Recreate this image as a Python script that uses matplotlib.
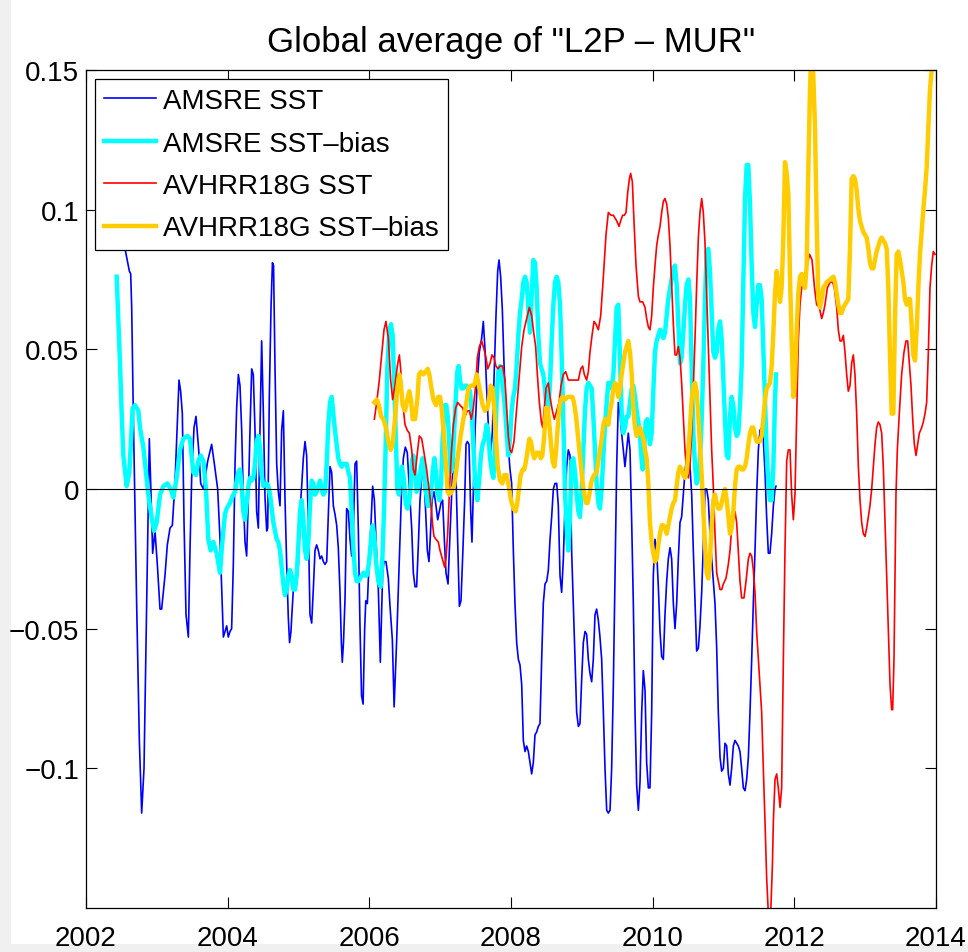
import matplotlib
matplotlib.use('Agg')
import matplotlib.pyplot as plt
from matplotlib.ticker import FixedLocator, FuncFormatter
from matplotlib.patches import Rectangle

plt.rcParams['font.family'] = ['Liberation Sans', 'DejaVu Sans']

TITLE = 'Global average of "L2P \u2013 MUR"'
LABELS = ['AMSRE SST', 'AMSRE SST\u2013bias', 'AVHRR18G SST', 'AVHRR18G SST\u2013bias']
XTICKS = [2002, 2004, 2006, 2008, 2010, 2012, 2014]
YTICKS = [-0.1, -0.05, 0, 0.05, 0.1, 0.15]

amsre_t = [2002.47, 2002.551, 2002.612, 2002.631, 2002.645, 2002.668, 2002.715, 2002.753, 2002.786, 2002.819,
    2002.856, 2002.894, 2002.918, 2002.941, 2002.974, 2003.007, 2003.045, 2003.068, 2003.115, 2003.148,
    2003.186, 2003.219, 2003.256, 2003.280, 2003.313, 2003.336, 2003.360, 2003.384, 2003.412, 2003.445,
    2003.468, 2003.492, 2003.525, 2003.553, 2003.591, 2003.619, 2003.657, 2003.718, 2003.774, 2003.812,
    2003.859, 2003.892, 2003.915, 2003.939, 2003.962, 2003.986, 2004.009, 2004.033, 2004.056, 2004.080,
    2004.104, 2004.127, 2004.151, 2004.174, 2004.198, 2004.221, 2004.245, 2004.268, 2004.292, 2004.315,
    2004.339, 2004.362, 2004.386, 2004.409, 2004.433, 2004.456, 2004.480, 2004.504, 2004.527, 2004.551,
    2004.565, 2004.588, 2004.612, 2004.632, 2004.648, 2004.668, 2004.692, 2004.715, 2004.739, 2004.762,
    2004.786, 2004.809, 2004.833, 2004.856, 2004.874, 2004.894, 2004.904, 2004.927, 2004.951, 2004.974,
    2004.998, 2005.021, 2005.045, 2005.068, 2005.092, 2005.115, 2005.139, 2005.162, 2005.186, 2005.209,
    2005.233, 2005.256, 2005.280, 2005.304, 2005.327, 2005.351, 2005.374, 2005.398, 2005.421, 2005.445,
    2005.468, 2005.492, 2005.515, 2005.539, 2005.562, 2005.586, 2005.605, 2005.618, 2005.635, 2005.657,
    2005.680, 2005.704, 2005.727, 2005.751, 2005.774, 2005.798, 2005.821, 2005.845, 2005.868, 2005.890,
    2005.912, 2005.934, 2005.950, 2005.972, 2006.000, 2006.024, 2006.047, 2006.071, 2006.094, 2006.127,
    2006.155, 2006.188, 2006.207, 2006.235, 2006.268, 2006.292, 2006.325, 2006.350, 2006.386, 2006.409,
    2006.433, 2006.456, 2006.480, 2006.508, 2006.536, 2006.565, 2006.598, 2006.621, 2006.645, 2006.668,
    2006.692, 2006.715, 2006.748, 2006.772, 2006.795, 2006.819, 2006.842, 2006.861, 2006.885, 2006.913,
    2006.941, 2006.965, 2006.988, 2007.012, 2007.035, 2007.059, 2007.082, 2007.111, 2007.139, 2007.172,
    2007.200, 2007.224, 2007.247, 2007.271, 2007.294, 2007.318, 2007.346, 2007.365, 2007.384, 2007.407,
    2007.431, 2007.449, 2007.468, 2007.496, 2007.525, 2007.553, 2007.586, 2007.609, 2007.633, 2007.656,
    2007.685, 2007.713, 2007.736, 2007.760, 2007.788, 2007.812, 2007.831, 2007.854, 2007.878, 2007.901,
    2007.925, 2007.953, 2007.986, 2008.009, 2008.033, 2008.056, 2008.080, 2008.104, 2008.127, 2008.151,
    2008.174, 2008.198, 2008.221, 2008.245, 2008.268, 2008.292, 2008.315, 2008.339, 2008.362, 2008.386,
    2008.409, 2008.433, 2008.456, 2008.480, 2008.504, 2008.527, 2008.551, 2008.574, 2008.598, 2008.621,
    2008.645, 2008.668, 2008.692, 2008.715, 2008.739, 2008.762, 2008.786, 2008.809, 2008.833, 2008.856,
    2008.880, 2008.904, 2008.927, 2008.951, 2008.974, 2008.998, 2009.021, 2009.045, 2009.068, 2009.092,
    2009.115, 2009.139, 2009.162, 2009.186, 2009.209, 2009.233, 2009.256, 2009.280, 2009.304, 2009.327,
    2009.351, 2009.374, 2009.398, 2009.421, 2009.445, 2009.468, 2009.492, 2009.515, 2009.539, 2009.562,
    2009.586, 2009.609, 2009.633, 2009.656, 2009.680, 2009.704, 2009.727, 2009.751, 2009.774, 2009.798,
    2009.821, 2009.845, 2009.868, 2009.892, 2009.915, 2009.939, 2009.962, 2009.986, 2010.009, 2010.033,
    2010.056, 2010.080, 2010.104, 2010.127, 2010.151, 2010.174, 2010.198, 2010.221, 2010.245, 2010.268,
    2010.292, 2010.315, 2010.339, 2010.362, 2010.386, 2010.409, 2010.433, 2010.456, 2010.480, 2010.504,
    2010.527, 2010.551, 2010.574, 2010.598, 2010.621, 2010.645, 2010.668, 2010.692, 2010.715, 2010.739,
    2010.762, 2010.786, 2010.809, 2010.833, 2010.856, 2010.880, 2010.904, 2010.927, 2010.951, 2010.974,
    2010.998, 2011.021, 2011.045, 2011.068, 2011.092, 2011.115, 2011.139, 2011.162, 2011.186, 2011.209,
    2011.233, 2011.256, 2011.280, 2011.304, 2011.327, 2011.351, 2011.374, 2011.398, 2011.421, 2011.445,
    2011.468, 2011.492, 2011.515, 2011.539, 2011.562, 2011.586, 2011.609, 2011.633, 2011.656, 2011.680,
    2011.704, 2011.727, 2011.741]
amsre_v = [0.095, 0.086, 0.078, 0.077, 0.065, 0.027, -0.041, -0.090, -0.116, -0.100,
    -0.041, 0.018, -0.002, -0.023, -0.015, -0.027, -0.043, -0.043, -0.031, -0.020,
    -0.014, -0.013, 0.002, 0.018, 0.039, 0.035, 0.027, -0.012, -0.045, -0.053,
    -0.022, 0.004, 0.022, 0.026, 0.014, 0.002, 0.000, 0.010, 0.016, 0.009,
    0.000, -0.018, -0.035, -0.053, -0.051, -0.049, -0.053, -0.051, -0.050, -0.027,
    0.009, 0.029, 0.041, 0.037, 0.021, -0.003, -0.019, -0.024, -0.003, 0.021,
    0.043, 0.041, 0.021, -0.008, -0.014, 0.021, 0.053, 0.027, -0.003, -0.015,
    -0.014, 0.033, 0.065, 0.081, 0.080, 0.044, 0.009, -0.001, -0.006, 0.021,
    0.028, -0.003, -0.027, -0.046, -0.055, -0.051, -0.046, -0.036, -0.034, -0.034,
    -0.027, -0.008, 0.001, 0.011, 0.017, 0.012, -0.013, -0.045, -0.048, -0.036,
    -0.022, -0.020, -0.022, -0.025, -0.024, -0.026, -0.027, -0.026, -0.009, 0.008,
    0.006, -0.006, -0.009, -0.013, -0.021, -0.037, -0.055, -0.062, -0.055, -0.039,
    -0.007, -0.008, -0.018, -0.024, -0.015, 0.009, 0.010, -0.015, -0.049, -0.074,
    -0.077, -0.050, -0.040, -0.041, -0.024, -0.012, 0.001, -0.004, -0.018, -0.036,
    -0.062, -0.030, -0.026, -0.026, -0.032, -0.042, -0.054, -0.078, -0.054, -0.036,
    -0.018, 0.000, 0.011, 0.015, 0.013, 0.000, -0.014, -0.030, -0.035, -0.035,
    -0.020, -0.004, 0.007, 0.004, -0.008, -0.022, -0.026, -0.017, -0.004, -0.001,
    -0.006, -0.011, -0.008, -0.005, -0.004, -0.018, -0.030, -0.034, -0.016, 0.004,
    0.011, 0.004, -0.018, -0.042, -0.040, -0.024, -0.004, 0.016, 0.017, 0.016,
    -0.008, -0.019, -0.001, 0.023, 0.039, 0.049, 0.054, 0.060, 0.050, 0.036,
    0.020, 0.013, 0.020, 0.039, 0.062, 0.078, 0.082, 0.076, 0.064, 0.045,
    0.030, 0.018, 0.007, 0.002, -0.022, -0.041, -0.055, -0.061, -0.063, -0.070,
    -0.090, -0.094, -0.092, -0.094, -0.098, -0.102, -0.098, -0.088, -0.087, -0.085,
    -0.084, -0.061, -0.041, -0.034, -0.033, -0.029, -0.018, -0.010, 0.000, 0.002,
    0.002, -0.006, -0.031, -0.037, -0.025, -0.006, 0.008, 0.014, 0.012, -0.022,
    -0.041, -0.061, -0.080, -0.085, -0.084, -0.068, -0.055, -0.051, -0.052, -0.061,
    -0.066, -0.069, -0.061, -0.045, -0.043, -0.047, -0.053, -0.061, -0.080, -0.100,
    -0.115, -0.116, -0.115, -0.100, -0.070, -0.031, 0.008, 0.031, 0.027, 0.020,
    0.014, 0.008, 0.014, 0.020, 0.014, -0.012, -0.041, -0.080, -0.106, -0.115,
    -0.105, -0.080, -0.065, -0.072, -0.098, -0.107, -0.107, -0.080, -0.031, -0.018,
    -0.022, -0.035, -0.051, -0.060, -0.061, -0.045, -0.033, -0.025, -0.021, -0.025,
    -0.041, -0.050, -0.041, -0.025, -0.012, -0.010, -0.002, 0.006, 0.012, 0.016,
    0.008, -0.002, -0.022, -0.041, -0.058, -0.057, -0.049, -0.037, -0.020, 0.000,
    0.000, -0.004, -0.016, -0.025, -0.033, -0.041, -0.057, -0.080, -0.096, -0.101,
    -0.100, -0.091, -0.092, -0.102, -0.106, -0.100, -0.092, -0.090, -0.091, -0.092,
    -0.094, -0.100, -0.107, -0.108, -0.104, -0.096, -0.080, -0.061, -0.041, -0.022,
    -0.002, 0.014, 0.021, 0.022, 0.018, 0.006, -0.010, -0.023, -0.023, -0.016,
    -0.006, 0.000, 0.001]

amsre_bias_t = [2002.433, 2002.480, 2002.504, 2002.527, 2002.574, 2002.612, 2002.659, 2002.692, 2002.739, 2002.762,
    2002.809, 2002.847, 2002.880, 2002.913, 2002.960, 2002.998, 2003.045, 2003.092, 2003.148, 2003.195,
    2003.233, 2003.280, 2003.327, 2003.374, 2003.431, 2003.468, 2003.515, 2003.553, 2003.586, 2003.619,
    2003.657, 2003.694, 2003.727, 2003.760, 2003.798, 2003.845, 2003.892, 2003.915, 2003.939, 2003.962,
    2003.986, 2004.033, 2004.080, 2004.104, 2004.127, 2004.151, 2004.174, 2004.198, 2004.221, 2004.245,
    2004.268, 2004.292, 2004.315, 2004.339, 2004.362, 2004.386, 2004.409, 2004.433, 2004.456, 2004.480,
    2004.504, 2004.551, 2004.574, 2004.598, 2004.621, 2004.645, 2004.668, 2004.692, 2004.715, 2004.739,
    2004.762, 2004.786, 2004.809, 2004.833, 2004.856, 2004.880, 2004.904, 2004.927, 2004.951, 2004.974,
    2004.998, 2005.021, 2005.045, 2005.068, 2005.092, 2005.115, 2005.139, 2005.162, 2005.186, 2005.209,
    2005.233, 2005.256, 2005.280, 2005.304, 2005.327, 2005.351, 2005.374, 2005.398, 2005.421, 2005.445,
    2005.468, 2005.492, 2005.515, 2005.539, 2005.562, 2005.586, 2005.609, 2005.633, 2005.656, 2005.680,
    2005.704, 2005.727, 2005.751, 2005.774, 2005.798, 2005.821, 2005.845, 2005.868, 2005.915, 2005.939,
    2005.962, 2005.986, 2006.000, 2006.024, 2006.047, 2006.071, 2006.094, 2006.127, 2006.160, 2006.184,
    2006.207, 2006.231, 2006.254, 2006.282, 2006.306, 2006.329, 2006.353, 2006.376, 2006.395, 2006.419,
    2006.442, 2006.461, 2006.485, 2006.513, 2006.536, 2006.560, 2006.584, 2006.602, 2006.621, 2006.645,
    2006.668, 2006.701, 2006.729, 2006.753, 2006.776, 2006.800, 2006.824, 2006.847, 2006.871, 2006.894,
    2006.918, 2006.941, 2006.960, 2006.988, 2007.012, 2007.035, 2007.064, 2007.087, 2007.111, 2007.129,
    2007.148, 2007.172, 2007.195, 2007.219, 2007.242, 2007.261, 2007.280, 2007.304, 2007.327, 2007.355,
    2007.374, 2007.398, 2007.421, 2007.445, 2007.468, 2007.496, 2007.525, 2007.553, 2007.576, 2007.600,
    2007.628, 2007.656, 2007.680, 2007.704, 2007.732, 2007.751, 2007.774, 2007.798, 2007.821, 2007.845,
    2007.868, 2007.892, 2007.915, 2007.939, 2007.962, 2007.986, 2008.009, 2008.033, 2008.056, 2008.080,
    2008.104, 2008.127, 2008.151, 2008.174, 2008.198, 2008.221, 2008.245, 2008.268, 2008.292, 2008.315,
    2008.339, 2008.362, 2008.386, 2008.409, 2008.433, 2008.456, 2008.480, 2008.504, 2008.527, 2008.551,
    2008.574, 2008.598, 2008.621, 2008.645, 2008.668, 2008.692, 2008.715, 2008.739, 2008.762, 2008.786,
    2008.809, 2008.833, 2008.856, 2008.880, 2008.904, 2008.927, 2008.951, 2008.974, 2008.998, 2009.021,
    2009.045, 2009.068, 2009.092, 2009.115, 2009.139, 2009.162, 2009.186, 2009.209, 2009.233, 2009.256,
    2009.280, 2009.304, 2009.327, 2009.351, 2009.374, 2009.398, 2009.421, 2009.445, 2009.468, 2009.492,
    2009.515, 2009.529, 2009.548, 2009.567, 2009.586, 2009.609, 2009.633, 2009.656, 2009.680, 2009.704,
    2009.727, 2009.751, 2009.774, 2009.798, 2009.821, 2009.845, 2009.859, 2009.878, 2009.901, 2009.925,
    2009.948, 2009.962, 2009.986, 2010.009, 2010.033, 2010.056, 2010.080, 2010.104, 2010.127, 2010.151,
    2010.174, 2010.198, 2010.221, 2010.245, 2010.268, 2010.292, 2010.315, 2010.339, 2010.362, 2010.386,
    2010.409, 2010.433, 2010.456, 2010.480, 2010.504, 2010.527, 2010.551, 2010.574, 2010.598, 2010.621,
    2010.645, 2010.668, 2010.692, 2010.715, 2010.739, 2010.762, 2010.786, 2010.809, 2010.833, 2010.856,
    2010.880, 2010.904, 2010.927, 2010.951, 2010.974, 2010.998, 2011.021, 2011.045, 2011.068, 2011.092,
    2011.115, 2011.139, 2011.162, 2011.186, 2011.209, 2011.233, 2011.256, 2011.280, 2011.304, 2011.327,
    2011.351, 2011.374, 2011.398, 2011.421, 2011.445, 2011.468, 2011.492, 2011.515, 2011.539, 2011.562,
    2011.586, 2011.609, 2011.633, 2011.656, 2011.680, 2011.704, 2011.727, 2011.741]
amsre_bias_v = [0.076, 0.045, 0.027, 0.012, 0.001, 0.006, 0.029, 0.030, 0.028, 0.022,
    0.015, 0.006, -0.002, -0.008, -0.015, -0.012, -0.002, 0.001, 0.002, 0.000,
    -0.003, 0.004, 0.014, 0.018, 0.019, 0.018, 0.006, 0.005, 0.010, 0.012,
    0.010, 0.000, -0.018, -0.022, -0.019, -0.023, -0.030, -0.022, -0.015, -0.009,
    -0.007, -0.005, -0.002, -0.001, 0.003, 0.006, 0.007, 0.001, -0.008, -0.011,
    -0.005, 0.001, 0.004, 0.003, 0.004, 0.009, 0.017, 0.019, 0.015, 0.005,
    0.001, 0.002, 0.001, -0.002, -0.007, -0.012, -0.015, -0.018, -0.019, -0.022,
    -0.028, -0.034, -0.038, -0.036, -0.031, -0.029, -0.031, -0.036, -0.036, -0.031,
    -0.020, -0.008, -0.004, -0.011, -0.022, -0.025, -0.019, -0.006, 0.003, 0.002,
    -0.002, -0.001, 0.001, 0.003, 0.000, -0.002, -0.001, 0.009, 0.023, 0.031,
    0.033, 0.027, 0.021, 0.016, 0.011, 0.009, 0.008, 0.009, 0.009, 0.009,
    0.006, 0.004, -0.008, -0.021, -0.030, -0.033, -0.033, -0.032, -0.030, -0.031,
    -0.031, -0.028, -0.025, -0.018, -0.013, -0.017, -0.026, -0.033, -0.035, -0.025,
    -0.008, 0.016, 0.043, 0.057, 0.059, 0.055, 0.037, 0.016, 0.000, -0.002,
    0.006, 0.008, 0.004, -0.005, -0.007, -0.005, 0.001, 0.010, 0.012, 0.007,
    -0.001, 0.001, 0.008, 0.011, 0.006, -0.001, -0.006, -0.006, -0.001, 0.006,
    0.011, 0.006, -0.001, -0.004, 0.002, 0.018, 0.030, 0.030, 0.025, 0.016,
    0.006, 0.007, 0.019, 0.032, 0.042, 0.044, 0.039, 0.036, 0.036, 0.037,
    0.037, 0.036, 0.035, 0.028, 0.016, 0.001, -0.004, 0.004, 0.012, 0.016,
    0.018, 0.023, 0.020, 0.011, 0.006, 0.004, 0.014, 0.032, 0.042, 0.044,
    0.041, 0.035, 0.029, 0.020, 0.012, 0.018, 0.028, 0.033, 0.036, 0.044,
    0.055, 0.063, 0.068, 0.074, 0.076, 0.074, 0.065, 0.056, 0.069, 0.082,
    0.081, 0.072, 0.055, 0.045, 0.043, 0.041, 0.036, 0.028, 0.029, 0.038,
    0.053, 0.066, 0.074, 0.076, 0.074, 0.066, 0.048, 0.024, -0.001, -0.014,
    -0.022, -0.010, 0.010, 0.011, 0.006, -0.002, -0.008, -0.010, 0.000, 0.014,
    0.028, 0.036, 0.038, 0.037, 0.036, 0.026, 0.014, 0.002, -0.005, -0.007,
    0.000, 0.012, 0.023, 0.031, 0.038, 0.038, 0.036, 0.041, 0.053, 0.065,
    0.066, 0.055, 0.038, 0.024, 0.020, 0.022, 0.026, 0.026, 0.031, 0.036,
    0.037, 0.033, 0.028, 0.024, 0.019, 0.010, 0.007, 0.013, 0.024, 0.025,
    0.020, 0.016, 0.020, 0.035, 0.049, 0.053, 0.055, 0.057, 0.056, 0.054,
    0.056, 0.062, 0.068, 0.072, 0.075, 0.079, 0.080, 0.073, 0.059, 0.045,
    0.047, 0.056, 0.066, 0.073, 0.075, 0.068, 0.044, 0.020, 0.008, 0.002,
    0.004, 0.011, 0.025, 0.044, 0.068, 0.085, 0.086, 0.078, 0.063, 0.049,
    0.047, 0.049, 0.057, 0.060, 0.054, 0.039, 0.025, 0.012, 0.011, 0.026,
    0.033, 0.030, 0.022, 0.019, 0.020, 0.030, 0.044, 0.074, 0.104, 0.116,
    0.116, 0.102, 0.080, 0.063, 0.058, 0.066, 0.073, 0.073, 0.068, 0.050,
    0.032, 0.014, 0.002, -0.004, -0.004, 0.008, 0.032, 0.041]

avhrr_t = [2006.071, 2006.104, 2006.141, 2006.174, 2006.207, 2006.235, 2006.268, 2006.301, 2006.329, 2006.362,
    2006.395, 2006.424, 2006.442, 2006.471, 2006.504, 2006.536, 2006.565, 2006.598, 2006.621, 2006.645,
    2006.678, 2006.706, 2006.739, 2006.772, 2006.809, 2006.842, 2006.871, 2006.894, 2006.913, 2006.941,
    2006.974, 2006.998, 2007.031, 2007.064, 2007.082, 2007.106, 2007.129, 2007.158, 2007.186, 2007.219,
    2007.247, 2007.280, 2007.318, 2007.351, 2007.384, 2007.412, 2007.440, 2007.468, 2007.501, 2007.525,
    2007.553, 2007.586, 2007.619, 2007.647, 2007.671, 2007.704, 2007.732, 2007.760, 2007.788, 2007.816,
    2007.845, 2007.882, 2007.915, 2007.939, 2007.962, 2007.986, 2008.009, 2008.042, 2008.080, 2008.118,
    2008.151, 2008.184, 2008.221, 2008.259, 2008.292, 2008.315, 2008.348, 2008.372, 2008.400, 2008.428,
    2008.447, 2008.471, 2008.494, 2008.527, 2008.551, 2008.584, 2008.612, 2008.645, 2008.678, 2008.706,
    2008.739, 2008.772, 2008.809, 2008.842, 2008.880, 2008.918, 2008.951, 2008.984, 2009.012, 2009.035,
    2009.068, 2009.092, 2009.115, 2009.144, 2009.172, 2009.200, 2009.233, 2009.266, 2009.304, 2009.341,
    2009.374, 2009.412, 2009.445, 2009.468, 2009.492, 2009.525, 2009.548, 2009.576, 2009.600, 2009.624,
    2009.647, 2009.671, 2009.689, 2009.713, 2009.736, 2009.765, 2009.798, 2009.821, 2009.859, 2009.892,
    2009.915, 2009.939, 2009.962, 2009.986, 2010.009, 2010.033, 2010.056, 2010.080, 2010.104, 2010.127,
    2010.151, 2010.174, 2010.198, 2010.221, 2010.245, 2010.268, 2010.292, 2010.315, 2010.339, 2010.362,
    2010.386, 2010.409, 2010.433, 2010.456, 2010.480, 2010.504, 2010.527, 2010.551, 2010.574, 2010.598,
    2010.621, 2010.645, 2010.668, 2010.692, 2010.715, 2010.739, 2010.762, 2010.786, 2010.809, 2010.833,
    2010.856, 2010.880, 2010.904, 2010.951, 2010.974, 2010.998, 2011.035, 2011.068, 2011.092, 2011.115,
    2011.139, 2011.162, 2011.186, 2011.209, 2011.233, 2011.256, 2011.289, 2011.318, 2011.351, 2011.374,
    2011.398, 2011.421, 2011.445, 2011.468, 2011.492, 2011.515, 2011.539, 2011.562, 2011.586, 2011.609,
    2011.633, 2011.650, 2011.666, 2011.690, 2011.704, 2011.727, 2011.751, 2011.774, 2011.798, 2011.821,
    2011.845, 2011.868, 2011.892, 2011.915, 2011.939, 2011.962, 2011.986, 2012.009, 2012.033, 2012.056,
    2012.080, 2012.104, 2012.127, 2012.151, 2012.180, 2012.215, 2012.250, 2012.285, 2012.315, 2012.353,
    2012.386, 2012.409, 2012.433, 2012.466, 2012.504, 2012.541, 2012.565, 2012.598, 2012.621, 2012.645,
    2012.668, 2012.692, 2012.715, 2012.739, 2012.762, 2012.786, 2012.809, 2012.833, 2012.856, 2012.880,
    2012.904, 2012.927, 2012.951, 2012.974, 2012.998, 2013.021, 2013.045, 2013.068, 2013.092, 2013.115,
    2013.139, 2013.162, 2013.186, 2013.209, 2013.233, 2013.256, 2013.280, 2013.304, 2013.327, 2013.351,
    2013.374, 2013.388, 2013.407, 2013.421, 2013.435, 2013.454, 2013.482, 2013.515, 2013.548, 2013.576,
    2013.600, 2013.624, 2013.647, 2013.671, 2013.694, 2013.718, 2013.741, 2013.765, 2013.798, 2013.821,
    2013.845, 2013.868, 2013.892, 2013.915, 2013.939, 2013.962, 2013.986]
avhrr_v = [0.025, 0.031, 0.039, 0.048, 0.057, 0.060, 0.054, 0.039, 0.032, 0.037,
    0.044, 0.048, 0.043, 0.031, 0.023, 0.021, 0.020, 0.014, 0.007, 0.005,
    0.013, 0.019, 0.018, 0.013, 0.007, 0.000, -0.006, -0.013, -0.017, -0.018,
    -0.019, -0.022, -0.025, -0.028, -0.025, -0.016, -0.002, 0.013, 0.023, 0.029,
    0.031, 0.030, 0.029, 0.026, 0.028, 0.028, 0.025, 0.029, 0.037, 0.047,
    0.051, 0.053, 0.050, 0.047, 0.043, 0.045, 0.048, 0.047, 0.044, 0.043,
    0.044, 0.044, 0.039, 0.029, 0.019, 0.014, 0.013, 0.017, 0.029, 0.041,
    0.051, 0.057, 0.061, 0.065, 0.062, 0.057, 0.051, 0.041, 0.031, 0.024,
    0.022, 0.029, 0.036, 0.038, 0.033, 0.028, 0.025, 0.028, 0.031, 0.037,
    0.041, 0.042, 0.039, 0.039, 0.039, 0.039, 0.039, 0.043, 0.044, 0.041,
    0.039, 0.042, 0.049, 0.055, 0.060, 0.059, 0.057, 0.062, 0.076, 0.091,
    0.099, 0.098, 0.098, 0.097, 0.096, 0.094, 0.096, 0.098, 0.098, 0.099,
    0.106, 0.111, 0.113, 0.110, 0.096, 0.080, 0.069, 0.067, 0.067, 0.065,
    0.061, 0.058, 0.057, 0.062, 0.072, 0.080, 0.087, 0.091, 0.094, 0.099,
    0.103, 0.104, 0.102, 0.097, 0.087, 0.073, 0.059, 0.048, 0.048, 0.051,
    0.047, 0.038, 0.026, 0.014, 0.006, 0.004, 0.008, 0.020, 0.037, 0.054,
    0.073, 0.090, 0.099, 0.104, 0.099, 0.088, 0.070, 0.050, 0.032, 0.014,
    0.001, -0.016, -0.030, -0.036, -0.036, -0.034, -0.032, -0.027, -0.022, -0.014,
    -0.010, -0.008, -0.012, -0.022, -0.033, -0.039, -0.039, -0.033, -0.025, -0.023,
    -0.024, -0.029, -0.037, -0.051, -0.061, -0.070, -0.080, -0.100, -0.119, -0.139,
    -0.152, -0.160, -0.152, -0.135, -0.119, -0.104, -0.102, -0.107, -0.114, -0.107,
    -0.061, -0.022, 0.010, 0.014, 0.014, -0.002, -0.011, -0.002, 0.027, 0.053,
    0.066, 0.072, 0.074, 0.076, 0.080, 0.084, 0.082, 0.072, 0.066, 0.065,
    0.061, 0.063, 0.066, 0.072, 0.074, 0.074, 0.072, 0.065, 0.057, 0.053,
    0.053, 0.055, 0.049, 0.041, 0.035, 0.037, 0.045, 0.048, 0.041, 0.027,
    0.008, -0.004, -0.012, -0.016, -0.017, -0.014, -0.010, -0.006, 0.000, 0.008,
    0.016, 0.022, 0.024, 0.023, 0.020, 0.008, -0.012, -0.031, -0.051, -0.070,
    -0.079, -0.079, -0.061, -0.033, -0.002, 0.014, 0.027, 0.041, 0.049, 0.053,
    0.053, 0.045, 0.037, 0.025, 0.016, 0.012, 0.016, 0.020, 0.022, 0.024,
    0.027, 0.031, 0.049, 0.072, 0.080, 0.085, 0.084]

avhrr_bias_t = [2006.071, 2006.104, 2006.136, 2006.165, 2006.198, 2006.235, 2006.268, 2006.301, 2006.329, 2006.362,
    2006.395, 2006.424, 2006.447, 2006.471, 2006.504, 2006.536, 2006.565, 2006.588, 2006.612, 2006.645,
    2006.678, 2006.701, 2006.729, 2006.762, 2006.795, 2006.824, 2006.847, 2006.871, 2006.904, 2006.941,
    2006.974, 2006.998, 2007.021, 2007.054, 2007.082, 2007.106, 2007.129, 2007.162, 2007.195, 2007.224,
    2007.256, 2007.289, 2007.327, 2007.365, 2007.398, 2007.431, 2007.468, 2007.492, 2007.515, 2007.548,
    2007.576, 2007.600, 2007.633, 2007.666, 2007.689, 2007.713, 2007.741, 2007.765, 2007.788, 2007.812,
    2007.845, 2007.878, 2007.906, 2007.939, 2007.976, 2008.000, 2008.033, 2008.066, 2008.089, 2008.113,
    2008.136, 2008.165, 2008.188, 2008.212, 2008.235, 2008.259, 2008.282, 2008.306, 2008.329, 2008.362,
    2008.395, 2008.419, 2008.442, 2008.466, 2008.494, 2008.518, 2008.541, 2008.565, 2008.588, 2008.612,
    2008.635, 2008.659, 2008.682, 2008.706, 2008.729, 2008.762, 2008.800, 2008.833, 2008.866, 2008.889,
    2008.918, 2008.941, 2008.965, 2008.988, 2009.012, 2009.035, 2009.059, 2009.082, 2009.106, 2009.129,
    2009.153, 2009.176, 2009.209, 2009.233, 2009.256, 2009.280, 2009.304, 2009.327, 2009.351, 2009.374,
    2009.398, 2009.421, 2009.445, 2009.468, 2009.492, 2009.515, 2009.539, 2009.562, 2009.586, 2009.609,
    2009.633, 2009.656, 2009.680, 2009.704, 2009.727, 2009.751, 2009.774, 2009.798, 2009.821, 2009.845,
    2009.868, 2009.892, 2009.915, 2009.939, 2009.962, 2009.986, 2010.009, 2010.033, 2010.056, 2010.080,
    2010.104, 2010.127, 2010.151, 2010.174, 2010.198, 2010.221, 2010.245, 2010.268, 2010.292, 2010.315,
    2010.339, 2010.362, 2010.386, 2010.409, 2010.433, 2010.456, 2010.480, 2010.504, 2010.527, 2010.551,
    2010.574, 2010.598, 2010.621, 2010.645, 2010.668, 2010.692, 2010.715, 2010.739, 2010.762, 2010.786,
    2010.809, 2010.833, 2010.856, 2010.880, 2010.904, 2010.927, 2010.951, 2010.974, 2010.998, 2011.021,
    2011.045, 2011.068, 2011.092, 2011.115, 2011.139, 2011.162, 2011.186, 2011.209, 2011.233, 2011.256,
    2011.280, 2011.304, 2011.327, 2011.351, 2011.374, 2011.398, 2011.421, 2011.445, 2011.468, 2011.492,
    2011.515, 2011.539, 2011.562, 2011.586, 2011.609, 2011.633, 2011.656, 2011.680, 2011.704, 2011.727,
    2011.751, 2011.774, 2011.798, 2011.821, 2011.845, 2011.868, 2011.892, 2011.915, 2011.939, 2011.962,
    2011.986, 2012.009, 2012.033, 2012.056, 2012.080, 2012.104, 2012.127, 2012.151, 2012.174, 2012.198,
    2012.221, 2012.245, 2012.268, 2012.292, 2012.315, 2012.339, 2012.362, 2012.386, 2012.409, 2012.433,
    2012.456, 2012.504, 2012.551, 2012.574, 2012.598, 2012.621, 2012.645, 2012.668, 2012.692, 2012.715,
    2012.762, 2012.786, 2012.809, 2012.833, 2012.856, 2012.880, 2012.904, 2012.927, 2012.951, 2012.974,
    2012.998, 2013.021, 2013.045, 2013.068, 2013.092, 2013.115, 2013.139, 2013.162, 2013.186, 2013.209,
    2013.233, 2013.256, 2013.280, 2013.304, 2013.327, 2013.351, 2013.374, 2013.398, 2013.421, 2013.445,
    2013.468, 2013.492, 2013.515, 2013.539, 2013.562, 2013.586, 2013.609, 2013.633, 2013.656, 2013.680,
    2013.704, 2013.727, 2013.751, 2013.774, 2013.798, 2013.821, 2013.845, 2013.868, 2013.892, 2013.915,
    2013.939, 2013.962]
avhrr_bias_v = [0.031, 0.032, 0.030, 0.026, 0.025, 0.022, 0.017, 0.014, 0.016, 0.025,
    0.036, 0.041, 0.037, 0.030, 0.028, 0.032, 0.035, 0.032, 0.025, 0.025,
    0.032, 0.041, 0.042, 0.041, 0.042, 0.043, 0.041, 0.037, 0.032, 0.030,
    0.033, 0.033, 0.029, 0.019, 0.008, -0.001, -0.002, -0.001, 0.001, 0.006,
    0.013, 0.019, 0.025, 0.030, 0.036, 0.037, 0.037, 0.038, 0.041, 0.037,
    0.033, 0.030, 0.028, 0.029, 0.032, 0.037, 0.036, 0.028, 0.018, 0.008,
    0.003, 0.002, 0.005, 0.005, 0.000, -0.004, -0.007, -0.008, -0.005, 0.000,
    0.005, 0.007, 0.007, 0.010, 0.014, 0.018, 0.017, 0.013, 0.011, 0.013,
    0.013, 0.011, 0.012, 0.018, 0.029, 0.029, 0.023, 0.016, 0.010, 0.008,
    0.013, 0.022, 0.029, 0.032, 0.033, 0.032, 0.033, 0.033, 0.033, 0.031,
    0.026, 0.020, 0.014, 0.008, 0.002, -0.002, -0.005, -0.005, -0.002, 0.002,
    0.004, 0.005, 0.006, 0.010, 0.014, 0.018, 0.023, 0.025, 0.025, 0.023,
    0.028, 0.031, 0.036, 0.038, 0.037, 0.033, 0.036, 0.041, 0.045, 0.049,
    0.051, 0.053, 0.049, 0.041, 0.029, 0.022, 0.019, 0.020, 0.022, 0.020,
    0.018, 0.014, 0.011, 0.002, -0.012, -0.019, -0.023, -0.026, -0.025, -0.020,
    -0.016, -0.013, -0.013, -0.014, -0.016, -0.013, -0.010, -0.007, -0.005, -0.004,
    0.001, 0.006, 0.008, 0.007, 0.005, 0.004, 0.006, 0.013, 0.022, 0.032,
    0.037, 0.038, 0.035, 0.026, 0.016, 0.005, -0.008, -0.020, -0.030, -0.032,
    -0.025, -0.013, -0.004, -0.002, -0.005, -0.007, -0.007, -0.005, -0.002, 0.000,
    -0.004, -0.010, -0.016, -0.014, -0.008, 0.001, 0.007, 0.008, 0.008, 0.007,
    0.007, 0.008, 0.011, 0.016, 0.020, 0.022, 0.022, 0.019, 0.017, 0.017,
    0.017, 0.019, 0.025, 0.032, 0.036, 0.037, 0.038, 0.044, 0.056, 0.070,
    0.078, 0.073, 0.067, 0.072, 0.090, 0.117, 0.113, 0.106, 0.076, 0.053,
    0.033, 0.039, 0.057, 0.070, 0.076, 0.077, 0.074, 0.072, 0.080, 0.115,
    0.143, 0.160, 0.148, 0.129, 0.096, 0.068, 0.065, 0.068, 0.072, 0.073,
    0.074, 0.075, 0.076, 0.074, 0.070, 0.066, 0.063, 0.063, 0.065, 0.066,
    0.068, 0.086, 0.111, 0.112, 0.111, 0.107, 0.100, 0.096, 0.094, 0.092,
    0.091, 0.090, 0.086, 0.081, 0.079, 0.079, 0.082, 0.085, 0.087, 0.089,
    0.090, 0.089, 0.088, 0.086, 0.072, 0.047, 0.027, 0.027, 0.061, 0.084,
    0.085, 0.082, 0.078, 0.074, 0.068, 0.066, 0.068, 0.068, 0.059, 0.048,
    0.046, 0.057, 0.072, 0.084, 0.092, 0.100, 0.107, 0.115, 0.129, 0.143,
    0.150, 0.160]

W, H = 968, 953
fig = plt.figure(figsize=(W / 100, H / 100), dpi=100, facecolor='white')
fig.patches.append(Rectangle((0, 0), 11 / W, 1, transform=fig.transFigure, facecolor='#f0f0f0', edgecolor='none', zorder=-10))
fig.patches.append(Rectangle((0, 0), 1, 8 / H, transform=fig.transFigure, facecolor='#f0f0f0', edgecolor='none', zorder=-10))

ax = fig.add_axes([86 / W, 1 - 909 / H, 850 / W, 838 / H])

ax.plot(amsre_t, amsre_v, color=(0, 0, 1), lw=1.2, label=LABELS[0])
ax.plot(amsre_bias_t, amsre_bias_v, color=(0, 1, 1), lw=3.2, label=LABELS[1])
ax.plot(avhrr_t, avhrr_v, color=(1, 0, 0), lw=1.2, label=LABELS[2])
ax.plot(avhrr_bias_t, avhrr_bias_v, color=(1, 0.8, 0), lw=3.2, label=LABELS[3])
ax.axhline(0, color='black', lw=0.8)

ax.set_xlim(2002, 2014)
ax.set_ylim(-0.15, 0.15)
ax.xaxis.set_major_locator(FixedLocator(XTICKS))
ax.yaxis.set_major_locator(FixedLocator(YTICKS))
ax.xaxis.set_major_formatter(FuncFormatter(lambda v, p: '%d' % round(v)))

def yfmt(v, p):
    if abs(v) < 1e-12:
        return '0'
    s = ('%.2f' % abs(v)).rstrip('0')
    return ('\u2212' if v < 0 else '') + s
ax.yaxis.set_major_formatter(FuncFormatter(yfmt))

ax.tick_params(direction='in', top=True, right=True, length=8, width=0.8, labelsize=20, colors='black')
ax.tick_params(axis='x', pad=12)
ax.tick_params(axis='y', pad=5)
for s in ax.spines.values():
    s.set_linewidth(0.9)

ax.set_title(TITLE, fontsize=25, pad=14)

leg = ax.legend(loc='upper left', bbox_to_anchor=(0.0106, 0.9893), borderaxespad=0,
                fontsize=20, frameon=True, fancybox=False, framealpha=1, edgecolor='black',
                handlelength=1.85, handletextpad=0.28, labelspacing=0.59, borderpad=0.33)
leg.get_frame().set_linewidth(0.9)

fig.savefig('out.png', dpi=100, facecolor=fig.get_facecolor())
